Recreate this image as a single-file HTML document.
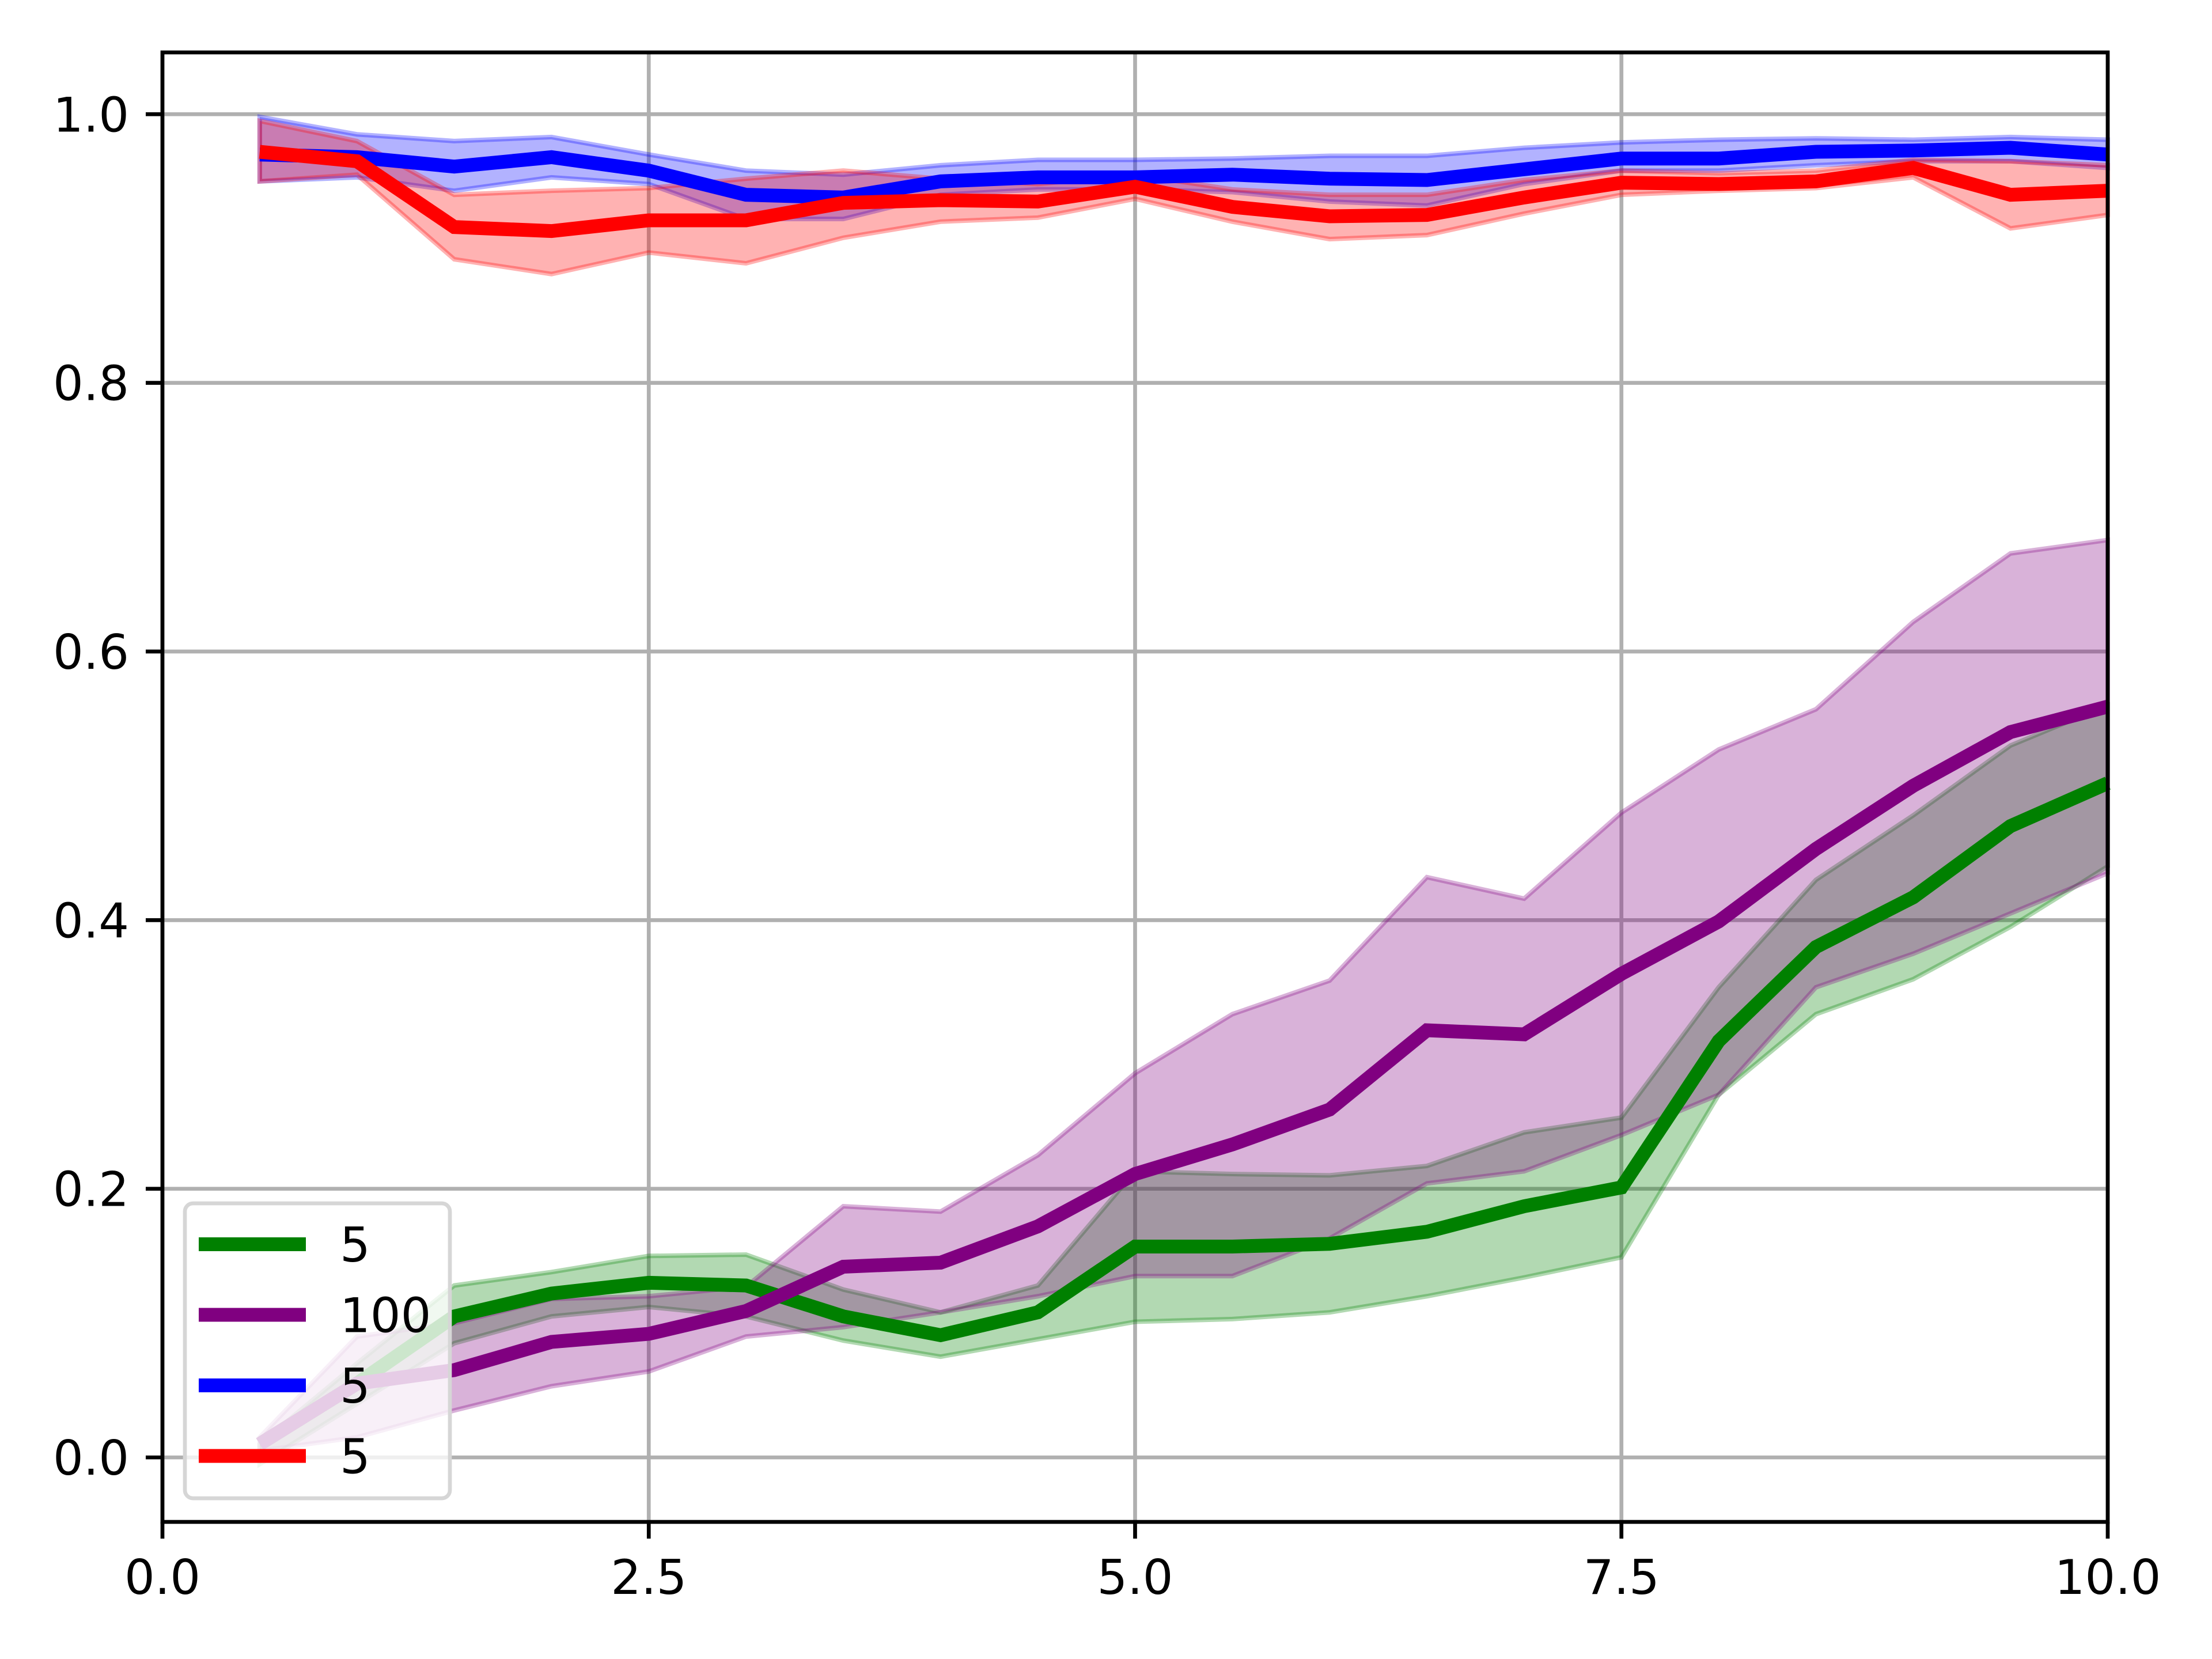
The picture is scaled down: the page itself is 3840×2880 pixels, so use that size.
<!DOCTYPE html>
<html><head><meta charset="utf-8"><style>
html,body{margin:0;padding:0;background:#fff;}
svg{display:block;}
text{font-family:"DejaVu Sans","Liberation Sans",sans-serif;font-size:83px;fill:#000;}
</style></head><body>
<svg id="chart" width="3840" height="2880" viewBox="0 0 3840 2880" xmlns="http://www.w3.org/2000/svg">
<g id="grid"></g>
<g id="series"></g>
<g id="axes"></g>
<g id="legend"></g>
</svg>
<script>
const xs = [0.5,1,1.5,2,2.5,3,3.5,4,4.5,5,5.5,6,6.5,7,7.5,8,8.5,9,9.5,10];
const greenMean = [0.01,0.055,0.105,0.122,0.13,0.128,0.105,0.091,0.108,0.157,0.157,0.159,0.168,0.187,0.201,0.31,0.38,0.417,0.47,0.502];
const greenLow = [-0.005,0.04,0.085,0.105,0.112,0.105,0.087,0.075,0.088,0.101,0.103,0.108,0.12,0.134,0.149,0.27,0.33,0.356,0.395,0.44];
const greenHigh = [0.01,0.07,0.128,0.138,0.15,0.151,0.125,0.108,0.128,0.213,0.211,0.21,0.217,0.242,0.253,0.35,0.43,0.478,0.53,0.56];
const purpleMean = [0.01,0.055,0.065,0.086,0.092,0.109,0.142,0.145,0.172,0.211,0.233,0.259,0.318,0.315,0.36,0.399,0.453,0.5,0.54,0.559];
const purpleLow = [0.005,0.015,0.035,0.053,0.064,0.09,0.097,0.108,0.12,0.135,0.135,0.163,0.204,0.213,0.24,0.27,0.35,0.375,0.405,0.435];
const purpleHigh = [0.015,0.09,0.1,0.118,0.12,0.127,0.187,0.183,0.225,0.286,0.33,0.355,0.432,0.416,0.48,0.527,0.557,0.622,0.673,0.683];
const blueMean = [0.97,0.968,0.961,0.968,0.958,0.94,0.938,0.95,0.953,0.953,0.955,0.952,0.951,0.959,0.967,0.967,0.972,0.973,0.975,0.97];
const blueLow = [0.95,0.953,0.943,0.953,0.948,0.922,0.922,0.94,0.944,0.944,0.942,0.935,0.932,0.948,0.958,0.958,0.962,0.965,0.965,0.96];
const blueHigh = [0.998,0.985,0.98,0.983,0.97,0.958,0.955,0.962,0.966,0.966,0.967,0.969,0.969,0.975,0.979,0.981,0.982,0.981,0.983,0.981];
const redMean = [0.972,0.965,0.916,0.913,0.921,0.921,0.934,0.936,0.935,0.946,0.931,0.924,0.925,0.938,0.949,0.948,0.95,0.96,0.94,0.943];
const redLow = [0.95,0.955,0.892,0.881,0.897,0.889,0.908,0.92,0.923,0.937,0.92,0.907,0.91,0.926,0.94,0.943,0.945,0.953,0.915,0.925];
const redHigh = [0.995,0.98,0.94,0.943,0.945,0.952,0.958,0.952,0.948,0.955,0.944,0.94,0.94,0.951,0.958,0.956,0.958,0.966,0.965,0.962];
const seriesLabels = ["5","100","5","5"];
const xTicks = [0,2.5,5,7.5,10];
const xTickLabels = ["0.0","2.5","5.0","7.5","10.0"];
const yTicks = [0,0.2,0.4,0.6,0.8,1.0];
const yTickLabels = ["0.0","0.2","0.4","0.6","0.8","1.0"];

const L=282,R=3659,T=91,B=2642;
const X0=0,X1=10,Y0=-0.048,Y1=1.046;
function sx(v){return L+(v-X0)/(X1-X0)*(R-L);}
function sy(v){return B-(v-Y0)/(Y1-Y0)*(B-T);}
const NS="http://www.w3.org/2000/svg";
function mk(tag,attrs,parent){const e=document.createElementNS(NS,tag);for(const k in attrs)e.setAttribute(k,attrs[k]);parent.appendChild(e);return e;}

const grid=document.getElementById('grid');
xTicks.forEach(t=>{const l=mk('line',{x1:sx(t),x2:sx(t),y1:T,y2:B,stroke:'#b0b0b0','stroke-width':6.7},grid);

});
yTicks.forEach(t=>{const l=mk('line',{x1:L,x2:R,y1:sy(t),y2:sy(t),stroke:'#b0b0b0','stroke-width':6.7},grid);

});

const ser=document.getElementById('series');
const defs=[
 {name:'green',c:'#008000',m:greenMean,lo:greenLow,hi:greenHigh},
 {name:'purple',c:'#800080',m:purpleMean,lo:purpleLow,hi:purpleHigh},
 {name:'blue',c:'#0000ff',m:blueMean,lo:blueLow,hi:blueHigh},
 {name:'red',c:'#ff0000',m:redMean,lo:redLow,hi:redHigh}];
defs.forEach(d=>{
 let p=xs.map((x,i)=>sx(x)+','+sy(d.hi[i]));
 for(let i=xs.length-1;i>=0;i--)p.push(sx(xs[i])+','+sy(d.lo[i]));
 const f=mk('polygon',{points:p.join(' '),fill:d.c,'fill-opacity':0.3,stroke:d.c,'stroke-opacity':0.3,'stroke-width':8},ser);
 
 
});
defs.forEach(d=>{
 const pts=xs.map((x,i)=>sx(x)+','+sy(d.m[i])).join(' ');
 const l=mk('polyline',{points:pts,fill:'none',stroke:d.c,'stroke-width':24,'stroke-linejoin':'miter','stroke-linecap':'butt'},ser);
 
 
});

const ax=document.getElementById('axes');
const fr=mk('rect',{x:L,y:T,width:R-L,height:B-T,fill:'none',stroke:'#000','stroke-width':6.7},ax);


xTicks.forEach((t,i)=>{
 mk('line',{x1:sx(t),x2:sx(t),y1:B,y2:B+29,stroke:'#000','stroke-width':6.7},ax);
 const tx=mk('text',{x:sx(t),y:B+125,'text-anchor':'middle'},ax);tx.textContent=xTickLabels[i];
 
 
});
yTicks.forEach((t,i)=>{
 mk('line',{x1:L-29,x2:L,y1:sy(t),y2:sy(t),stroke:'#000','stroke-width':6.7},ax);
 const tx=mk('text',{x:L-58,y:sy(t)+30,'text-anchor':'end'},ax);tx.textContent=yTickLabels[i];
 
 
});

const lg=document.getElementById('legend');
const box=mk('rect',{x:321,y:2089,width:460,height:512,rx:14,fill:'#fff','fill-opacity':0.8,stroke:'#d6d6d6','stroke-width':6.7},lg);


defs.forEach((d,i)=>{
 const y=2160+i*122.5;
 const l=mk('line',{x1:345,x2:531,y1:y,y2:y,stroke:d.c,'stroke-width':24},lg);
 
 
 const tx=mk('text',{x:590,y:y+30},lg);tx.textContent=seriesLabels[i];
 
 
});
</script>
</body></html>
